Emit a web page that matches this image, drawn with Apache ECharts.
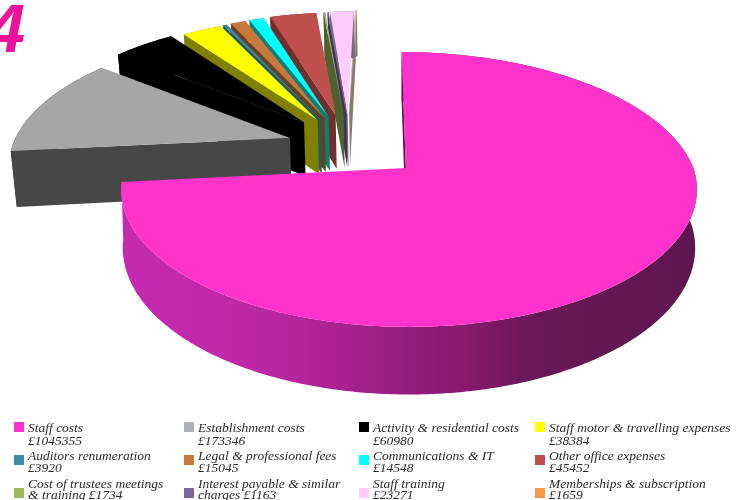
<!DOCTYPE html>
<html>
<head>
<meta charset="utf-8">
<style>html,body{margin:0;padding:0;background:#fff}#c{width:739px;height:500px}</style>
<script src="https://cdn.jsdelivr.net/npm/echarts@6/dist/echarts.min.js"></script>
</head>
<body>
<div id="c"></div>
<script>
// ---------- data ----------
var categories = [
  "Staff costs\n", "Establishment costs\n", "Activity & residential costs\n", "Staff motor & travelling expenses\n",
  "Auditors renumeration\n", "Legal & professional fees\n", "Communications & IT\n", "Other office expenses\n",
  "Cost of trustees meetings\n& training ", "Interest payable & similar\ncharges ", "Staff training\n", "Memberships & subscription\n"
];
var values = [1045355, 173346, 60980, 38384, 3920, 15045, 14548, 45452, 1734, 1163, 23271, 1659];
var sliceOrder = [0, 1, 2, 3, 4, 5, 6, 7, 8, 9, 10, 11];
var legendOrder = [0, 1, 2, 3, 4, 5, 6, 7, 8, 9, 10, 11];
var corner = "4";

// ---------- styling ----------
var topColors = ["#ff33cc", "#a6a6a6", "#000000", "#ffff00", "#3c86a0", "#c8783a", "#00ffff", "#c0504d", "#9bbb59", "#8064a2", "#ffccff", "#e0c0a8"];
var legendColors = ["#ff33cc", "#acb0b3", "#000000", "#ffff00", "#3c8aa6", "#c8783a", "#00ffff", "#c0504d", "#9bbb59", "#8064a2", "#ffccff", "#f79646"];
var wallColors = ["#5e1450", "#474747", "#000000", "#807f00", "#1e5c60", "#64401f", "#0a7f72", "#70302c", "#4f6130", "#403258", "#7a687a", "#8a7a6a"];
// how far each slice is pulled out of the pie (in pie radii), like a pie's selectedOffset
var pullX = [0, -0.434, -0.39, -0.34, -0.33, -0.315, -0.30, -0.275, -0.245, -0.235, -0.23, -0.225];
var pullY = [0, 0.232, 0.36, 0.377, 0.385, 0.395, 0.405, 0.419, 0.425, 0.427, 0.428, 0.445];

var cam = {xc: 409, y0: 168, d: 6.4, f: 1820, g: 858, h: 365};
function project(X, Y, low, drift) {
  var s = 1 / (cam.d + Y);
  var x = cam.xc + cam.f * X * s;
  var y = cam.y0 - cam.g * Y * s;
  if (low) { x += (cam.xc - x) * drift; y += cam.h * s; }
  return [x, y];
}

var total = values.reduce(function (a, b) { return a + b; }, 0);
var startAngles = [];
values.reduce(function (acc, v, i) { startAngles[i] = acc; return acc + v / total * 360; }, 0);

var rimGradient = new echarts.graphic.LinearGradient(121, 0, 697, 0, [
  {offset: 0, color: "#c52ab2"}, {offset: 0.2, color: "#bf28a8"}, {offset: 0.33, color: "#b32398"},
  {offset: 0.48, color: "#991e82"}, {offset: 0.6, color: "#861a6c"}, {offset: 0.72, color: "#681858"},
  {offset: 1, color: "#5e1650"}
], true);

function renderSlice(params, api) {
  var i = api.value(0);
  var span = api.value(1) / total * 360;
  var a0 = startAngles[i];
  var ox = pullX[i], oy = pullY[i];
  var main = i === 0;
  var drift = main ? 0.006 : 0.015;
  function world(deg, low) {
    var r = deg * Math.PI / 180;
    var X = ox + Math.sin(r), Y = oy + Math.cos(r);
    if (main && Y > 0) { X -= 0.03 * Y; }
    return project(X, Y, low, drift);
  }
  var apexTop = project(main ? ox - 0.011 : ox, oy, false, drift);
  var apexLow = project(main ? ox - 0.011 : ox, oy, true, drift);
  var rim = [], rimLow = [], steps = Math.max(2, Math.ceil(span * 2));
  for (var k = 0; k <= steps; k++) {
    var deg = a0 + span * k / steps;
    rim.push(world(deg, false));
    rimLow.push(world(deg, true));
  }
  var children = [];
  // outer wall
  children.push({
    type: "polygon",
    shape: {points: rim.concat(rimLow.slice().reverse())},
    style: {fill: main ? rimGradient : wallColors[i]}
  });
  // wall on the first cut edge
  children.push({
    type: "polygon",
    shape: {points: [apexTop, rim[0], rimLow[0], apexLow]},
    style: {fill: wallColors[i]}
  });
  // top face
  children.push({
    type: "polygon",
    shape: {points: [apexTop].concat(rim)},
    style: {fill: topColors[i]}
  });
  return {type: "group", children: children};
}

var legendCols = [{sw: 14, tx: 28}, {sw: 184, tx: 198}, {sw: 359, tx: 373}, {sw: 535, tx: 549}];
var legendRows = [{sw: 422, tx: 422, lh: 13}, {sw: 455, tx: 450, lh: 12}, {sw: 488, tx: 479, lh: 11}];
var legendGraphics = [];
legendOrder.forEach(function (idx, n) {
  var col = legendCols[n % 4], row = legendRows[Math.floor(n / 4)];
  legendGraphics.push({type: "rect", shape: {x: col.sw, y: row.sw, width: 10, height: 10}, style: {fill: legendColors[idx]}, silent: true});
  legendGraphics.push({
    type: "text", x: col.tx, y: row.tx, silent: true,
    style: {
      text: categories[idx] + "£" + values[idx],
      font: "italic 13.5px 'Liberation Serif'", fill: "#2a2a2a", lineHeight: row.lh, textAlign: "left", textVerticalAlign: "top"
    }
  });
});
legendGraphics.push({
  type: "text", x: 25, y: 33, silent: true,
  style: {text: corner, font: "italic bold 68px 'Liberation Sans'", fill: "#f0109a", textAlign: "right", textVerticalAlign: "middle"}
});

var chart = echarts.init(document.getElementById("c"), null, {renderer: "canvas"});
chart.setOption({
  animation: false,
  backgroundColor: "#ffffff",
  graphic: legendGraphics,
  series: [{
    type: "custom",
    coordinateSystem: "none",
    renderItem: renderSlice,
    data: sliceOrder.slice().reverse().map(function (i) { return [i, values[i]]; })
  }]
});
</script>
</body>
</html>
